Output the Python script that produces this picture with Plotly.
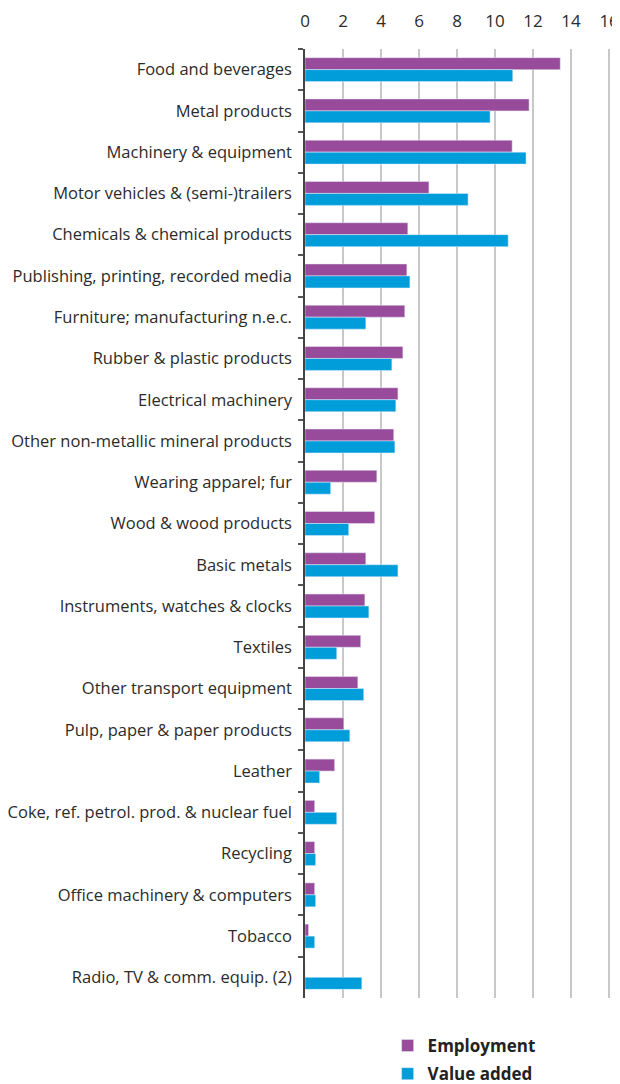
import plotly.graph_objects as go

# Share by industry (%)
industries = [
    "Food and beverages",
    "Metal products",
    "Machinery & equipment",
    "Motor vehicles & (semi-)trailers",
    "Chemicals & chemical products",
    "Publishing, printing, recorded media",
    "Furniture; manufacturing n.e.c.",
    "Rubber & plastic products",
    "Electrical machinery",
    "Other non-metallic mineral products",
    "Wearing apparel; fur",
    "Wood & wood products",
    "Basic metals",
    "Instruments, watches & clocks",
    "Textiles",
    "Other transport equipment",
    "Pulp, paper & paper products",
    "Leather",
    "Coke, ref. petrol. prod. & nuclear fuel",
    "Recycling",
    "Office machinery & computers",
    "Tobacco",
    "Radio, TV & comm. equip. (2)",
]
employment = [13.43, 11.79, 10.9, 6.52, 5.41, 5.36, 5.25, 5.15, 4.89, 4.67,
              3.78, 3.67, 3.2, 3.15, 2.93, 2.78, 2.04, 1.56, 0.51, 0.51,
              0.51, 0.19, 0.0]
value_added = [10.93, 9.74, 11.63, 8.58, 10.69, 5.52, 3.2, 4.57, 4.78, 4.73,
               1.35, 2.3, 4.89, 3.36, 1.67, 3.09, 2.36, 0.77, 1.67, 0.56,
               0.56, 0.51, 2.99]
x_ticks = [0, 2, 4, 6, 8, 10, 12, 14, 16]

PURPLE = "#984B9B"
BLUE = "#009DDB"
FONT = "Open Sans"
TEXT = "#2b2b2b"

fig = go.Figure()
fig.add_trace(go.Bar(y=industries, x=employment, orientation="h",
                     name="Employment", marker_color=PURPLE, legendgroup="e"))
fig.add_trace(go.Bar(y=industries, x=value_added, orientation="h",
                     name="Value added", marker_color=BLUE, legendgroup="v"))

# page body has an 8px margin, so margins are shifted to compensate
fig.update_layout(
    width=612, height=1084,
    margin=dict(l=297, r=9, t=41, b=94),
    barmode="group", bargap=0.42, bargroupgap=0,
    plot_bgcolor="white", paper_bgcolor="white",
    font=dict(family=FONT, size=15, color=TEXT),
    legend=dict(
        x=0.27, xanchor="left", xref="paper",
        y=0, yanchor="bottom", yref="container",
        traceorder="grouped", tracegroupgap=3,
        font=dict(family=FONT, size=17, color="#222222", weight="bold"),
        itemwidth=30,
    ),
    xaxis=dict(
        # range slightly past 16 so the last gridline is drawn
        side="top", range=[0, 16.1], tickvals=x_ticks,
        showgrid=True, gridcolor="#c8c8c8", gridwidth=1.5,
        zeroline=False, showline=False, ticks="",
        ticklabelstandoff=18, automargin=False,
        tickfont=dict(size=17, color=TEXT),
    ),
    yaxis=dict(
        autorange="reversed", automargin=False,
        showline=True, linecolor="#444444", linewidth=1.5,
        ticks="outside", tickson="boundaries", ticklen=5,
        tickcolor="#555555", tickwidth=1.5,
        ticklabelstandoff=8,
        tickfont=dict(size=16.5, color=TEXT),
        showgrid=False,
    ),
)

fig.write_html("out.html")
